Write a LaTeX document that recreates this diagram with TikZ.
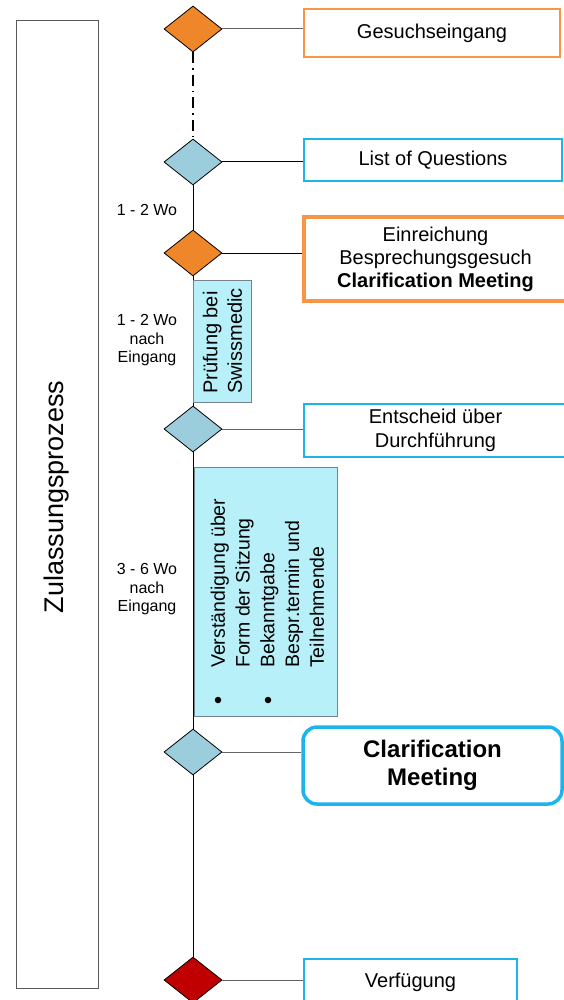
\documentclass[tikz,border=0pt]{standalone}
\usepackage{fontspec}
\setmainfont{Liberation Sans}
\usetikzlibrary{shapes.geometric}
\definecolor{dorange}{RGB}{240,134,42}
\definecolor{dblue}{RGB}{155,205,220}
\definecolor{dred}{RGB}{192,0,0}
\definecolor{borange}{RGB}{247,150,70}
\definecolor{bcyan}{RGB}{30,180,235}
\definecolor{pfill}{RGB}{183,240,248}
\definecolor{pbord}{RGB}{120,130,140}
\definecolor{conngray}{RGB}{100,100,100}
\begin{document}
\begin{tikzpicture}[x=1pt,y=-1pt,
  dia/.style={diamond, draw=black, line width=0.8pt, inner sep=0pt, minimum width=58pt, minimum height=46pt},
  box/.style={draw, rectangle, inner sep=0pt, align=center, fill=white, font=\fontsize{20}{23}\selectfont},
  conn/.style={line width=1pt, draw=conngray},
  spine/.style={line width=1pt, draw=black},
  timelbl/.style={align=center, inner sep=0pt, font=\fontsize{16}{18.5}\selectfont},
  actbox/.style={draw=pbord, fill=pfill, line width=0.9pt, inner sep=0pt},
  bullet/.style={circle, fill=black, inner sep=0pt, minimum size=6.5pt}
]
\useasboundingbox (0,0) rectangle (564,1000);

% left frame
\node[draw=gray!70!black, line width=0.9pt, minimum width=82pt, minimum height=968pt, inner sep=0pt] (lb) at (57,504) {};
\node[rotate=90, inner sep=0pt, font=\fontsize{27}{27}\selectfont] (lt) at (57,497) {Zulassungsprozess};

% diamonds
\node[dia, fill=dorange] (d1) at (193,29) {};
\node[dia, fill=dblue] (d2) at (193,162) {};
\node[dia, fill=dorange] (d3) at (193,253) {};
\node[dia, fill=dblue] (d4) at (193,429) {};
\node[dia, fill=dblue] (d5) at (193,752) {};
\node[dia, fill=dred] (d6) at (193,980) {};

% spine
\draw[spine, line width=1.1pt, dash pattern=on 11pt off 5pt on 1.5pt off 5pt] (d1.south) -- (d2.north);
\draw[spine] (d2.south) -- (d3.north);
\draw[spine] (d3.south) -- (d4.north);
\draw[spine] (d4.south) -- (d5.north);
\draw[spine] (d5.south) -- (d6.north);

% boxes
\node[box, draw=borange, line width=1.3pt, minimum width=256pt, minimum height=48pt] (b1) at (432,33) {Gesuchseingang};
\node[box, draw=bcyan, line width=1.3pt, minimum width=258pt, minimum height=42pt] (b2) at (433,160) {List of Questions};
\node[box, draw=borange, line width=3.5pt, minimum width=263pt, minimum height=84pt] (b3) at (435.5,259) {Einreichung\\Besprechungsgesuch\\\textbf{Clarification Meeting}};
\node[box, draw=bcyan, line width=1.3pt, minimum width=263pt, minimum height=53pt, font=\fontsize{20}{24.5}\selectfont] (b4) at (435.5,430.5) {Entscheid über\\Durchführung};
\node[box, draw=bcyan, line width=3.5pt, rounded corners=14pt, minimum width=259pt, minimum height=77pt, font=\fontsize{24}{28}\selectfont\bfseries] (b5) at (432.5,765.5) {Clarification\\Meeting};
\node[box, draw=bcyan, line width=1.3pt, minimum width=213pt, minimum height=46pt] (b6) at (410.5,982) {Verfügung};

% connectors
\draw[conn] (d1.east) -- (d1.east -| b1.west);
\draw[conn, draw=black] (d2.east) -- (d2.east -| b2.west);
\draw[conn, draw=black] (d3.east) -- (d3.east -| b3.west);
\draw[conn] (d4.east) -- (d4.east -| b4.west);
\draw[conn] (d5.east) -- (d5.east -| b5.west);
\draw[conn] (d6.east) -- (d6.east -| b6.west);

% activity boxes
\node[actbox, rotate=90, minimum width=122pt, minimum height=58.5pt, align=left, font=\fontsize{20}{24.5}\selectfont] (p1) at (222.5,341) {Prüfung bei\\Swissmedic};
\node[actbox, minimum width=143pt, minimum height=249pt] (p2) at (265.5,591.5) {};
\node[rotate=90, anchor=west, align=left, inner sep=0pt, font=\fontsize{19.5}{24.75}\selectfont] (t2) at (267.5,668) {Verständigung über\\Form der Sitzung\\Bekanntgabe\\Bespr.termin und\\Teilnehmende};
\node[bullet] (bu1) at (218,700) {};
\node[bullet] (bu2) at (268,700) {};

% time labels
\node[timelbl] (l1) at (147,210) {1 - 2 Wo};
\node[timelbl] (l2) at (147,340.5) {1 - 2 Wo\\nach\\Eingang};
\node[timelbl] (l3) at (147,589.5) {3 - 6 Wo\\nach\\Eingang};
\end{tikzpicture}
\end{document}
